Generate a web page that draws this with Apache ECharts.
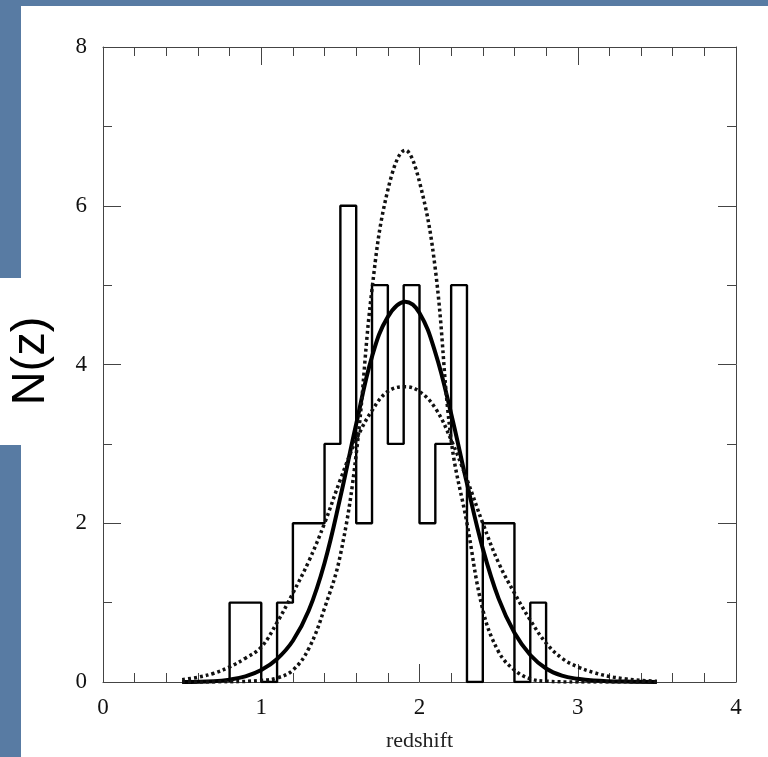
<!DOCTYPE html>
<html>
	<head>
		<meta charset="utf-8">
		<title>N(z)</title>
		<script src="https://cdn.jsdelivr.net/npm/echarts@6/dist/echarts.min.js"></script>
		<style>
			html,body{
				margin: 0;
				padding: 0;
				background-color: #587ba3;
			}
			#chart{
				width: 768px;
				height: 757px;
			}
		</style>
	</head>
	<body>
		<div id="chart"></div>
	</body>
	<script>
		//直方图：箱边界和每箱计数
		var histEdges=[0.8,1.0,1.1,1.2,1.4,1.5,1.6,1.7,1.8,1.9,2.0,2.1,2.2,2.3,2.4,2.6,2.7,2.8];
		var histCounts=[1,0,1,2,3,6,2,5,3,5,2,3,5,0,2,0,1];

		//拟合曲线（从图上读出来的点）
		var fitZ=[0.5,0.7,0.8,0.9,1.0,1.1,1.2,1.3,1.4,1.5,1.6,1.7,1.8,1.91,2.0,2.1,2.2,2.3,2.4,2.5,2.6,2.7,2.8,2.9,3.0,3.1,3.3,3.5];
		var fitN=[0,0.01,0.03,0.07,0.15,0.29,0.52,0.9,1.5,2.33,3.25,4.1,4.6,4.79,4.65,4.15,3.38,2.5,1.68,1.05,0.62,0.34,0.17,0.08,0.04,0.02,0.005,0];

		//宽的虚线
		var wideZ=[0.5,0.6,0.7,0.8,0.9,1.0,1.1,1.2,1.3,1.4,1.5,1.6,1.7,1.8,1.91,2.0,2.1,2.2,2.3,2.4,2.5,2.6,2.7,2.8,2.9,3.0,3.1,3.2,3.3,3.4,3.5];
		var wideN=[0.03,0.06,0.11,0.19,0.3,0.44,0.75,1.12,1.52,2.0,2.55,3.05,3.42,3.66,3.72,3.66,3.45,3.05,2.55,2.0,1.5,1.12,0.78,0.49,0.3,0.19,0.12,0.07,0.04,0.02,0.01];

		//窄的虚线
		var narrowZ=[0.5,0.8,1.0,1.1,1.2,1.3,1.4,1.5,1.6,1.7,1.8,1.91,2.0,2.1,2.2,2.3,2.4,2.5,2.6,2.7,2.8,3.0,3.5];
		var narrowN=[0,0.003,0.02,0.05,0.15,0.42,0.93,1.6,2.87,4.95,6.2,6.7,6.3,5.2,3.05,2.0,0.91,0.38,0.15,0.04,0.01,0,0];

		var xTicks=[0,1,2,3,4];
		var yTicks=[0,2,4,6,8];

		function pairs(xs,ys){
			var arr=[];
			for(var i=0;i<xs.length;i++) arr.push([xs[i],ys[i]]);
			return arr;
		}

		//直方图轮廓（阶梯线）
		var histLine=[[histEdges[0],0]];
		for(var i=0;i<histCounts.length;i++){
			histLine.push([histEdges[i],histCounts[i]]);
		}
		histLine.push([histEdges[histEdges.length-1],0]);

		var frameColor="#444";
		var labelFont={fontFamily:"Liberation Serif",fontSize:23,color:"#111"};

		function xAxis(pos,showLabel){
			return {
				type:'value',
				position:pos,
				min:xTicks[0],
				max:xTicks[xTicks.length-1],
				interval:1,
				axisLine:{show:true,onZero:false,lineStyle:{color:frameColor,width:1}},
				axisTick:{show:true,inside:true,length:18,lineStyle:{color:frameColor}},
				minorTick:{show:true,splitNumber:5,length:9,lineStyle:{color:frameColor}},
				splitLine:{show:false},
				axisLabel:{show:showLabel,margin:14,fontFamily:labelFont.fontFamily,fontSize:labelFont.fontSize,color:labelFont.color},
				name:showLabel?'redshift':'',
				nameLocation:'middle',
				nameGap:48,
				nameTextStyle:{fontFamily:"Liberation Serif",fontSize:22,color:"#222"}
			};
		}
		function yAxis(pos,showLabel){
			return {
				type:'value',
				position:pos,
				min:yTicks[0],
				max:yTicks[yTicks.length-1],
				interval:2,
				axisLine:{show:true,onZero:false,lineStyle:{color:frameColor,width:1}},
				axisTick:{show:true,inside:true,length:18,lineStyle:{color:frameColor}},
				minorTick:{show:true,splitNumber:2,length:9,lineStyle:{color:frameColor}},
				splitLine:{show:false},
				axisLabel:{show:showLabel,margin:16,fontFamily:labelFont.fontFamily,fontSize:labelFont.fontSize,color:labelFont.color}
			};
		}

		var option={
			backgroundColor:'#587ba3',
			animation:false,
			graphic:[
				{type:'rect',z:-10,shape:{x:21,y:6,width:747,height:751},style:{fill:'#fff'}},
				{type:'rect',z:-10,shape:{x:0,y:278,width:30,height:167},style:{fill:'#fff'}},
				{type:'text',x:31,y:361,rotation:Math.PI/2,
					style:{text:'N(z)',font:'47px "Liberation Sans"',fill:'#000',align:'center',verticalAlign:'middle'}}
			],
			grid:{left:103,right:32,top:47,bottom:75,containLabel:false},
			xAxis:[xAxis('bottom',true),xAxis('top',false)],
			yAxis:[yAxis('left',true),yAxis('right',false)],
			series:[
				{
					type:'line',
					data:histLine,
					step:'end',
					symbol:'none',
					lineStyle:{color:'#000',width:2.4},
					z:3
				},
				{
					type:'line',
					data:pairs(fitZ,fitN),
					smooth:0.4,
					symbol:'none',
					lineStyle:{color:'#000',width:4},
					z:4
				},
				{
					type:'line',
					data:pairs(wideZ,wideN),
					smooth:0.4,
					symbol:'none',
					lineStyle:{color:'#111',width:3.5,type:[3,3]},
					z:4
				},
				{
					type:'line',
					data:pairs(narrowZ,narrowN),
					smooth:0.4,
					symbol:'none',
					lineStyle:{color:'#111',width:3.5,type:[3,3]},
					z:4
				}
			]
		};

		var myChart=echarts.init(document.getElementById('chart'));
		myChart.setOption(option);
	</script>
</html>
